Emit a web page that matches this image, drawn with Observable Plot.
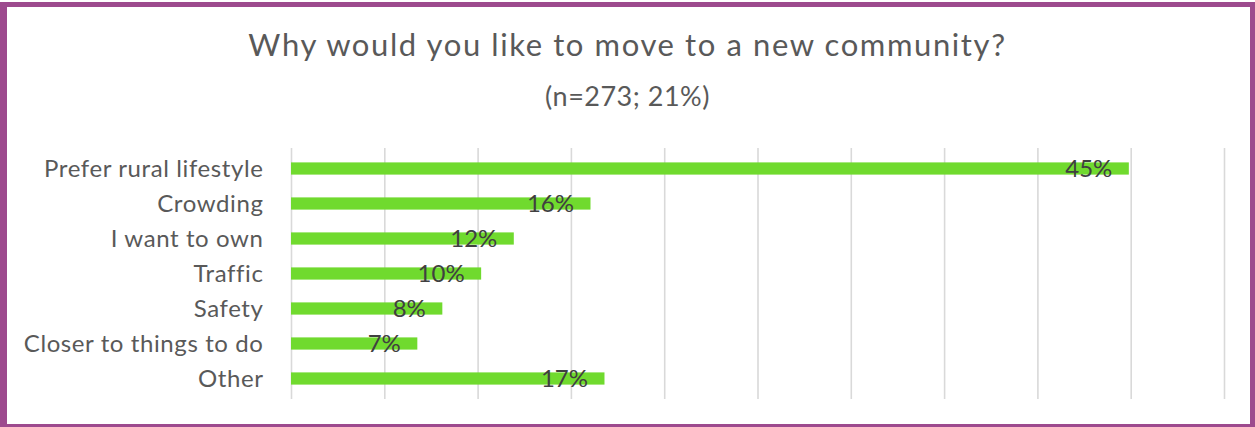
<!DOCTYPE html>
<html>
<head>
<meta charset="utf-8">
<script src="https://cdn.jsdelivr.net/npm/d3@7"></script>
<script src="https://cdn.jsdelivr.net/npm/@observablehq/plot@0.6"></script>
<style>
  html, body { margin: 0; padding: 0; background: #fff; }
  #wrap { position: relative; width: 1255px; height: 427px; overflow: hidden; font-family: Lato, sans-serif; }
  #border { position: absolute; left: 0; top: 2px; width: 1255px; height: 425px; box-sizing: border-box;
            border-style: solid; border-color: #9d4a8e; border-width: 5px 5px 3px 7px; pointer-events: none; }
  #head { position: relative; height: 130px; }
  #title { position: absolute; left: 0; width: 1255px; top: 28.5px; text-align: center; font-size: 31px; letter-spacing: 1.6px; line-height: 1; color: #595959; white-space: nowrap; }
  #subtitle { position: absolute; left: 0; width: 1255px; top: 82px; text-align: center; font-size: 27px; letter-spacing: 0.5px; line-height: 1; color: #595959; white-space: nowrap; }
  #chart svg { display: block; }
  #chart g[aria-label="y-axis tick label"] text { letter-spacing: 0.6px; }
</style>
</head>
<body>
<div id="wrap">
  <div id="head">
    <div id="title">Why would you like to move to a new community?</div>
    <div id="subtitle">(n=273; 21%)</div>
  </div>
  <div id="chart"></div>
  <div id="border"></div>
</div>
<script>
const categories = ["Prefer rural lifestyle", "Crowding", "I want to own", "Traffic", "Safety", "Closer to things to do", "Other"];
const shares = [0.449, 0.1605, 0.1194, 0.1019, 0.0811, 0.0677, 0.168];
const gridTicks = [0, 0.05, 0.1, 0.15, 0.2, 0.25, 0.3, 0.35, 0.4, 0.45, 0.5];

const data = categories.map((c, i) => ({category: c, value: shares[i]}));
const fmt = d3.format(".0%");

const chart = Plot.plot({
  width: 1255,
  height: 297,
  marginTop: 18,
  marginBottom: 28,
  marginLeft: 291,
  marginRight: 31,
  style: {fontFamily: "Lato, sans-serif", background: "transparent"},
  x: {domain: [0, 0.5], axis: null},
  y: {domain: categories, padding: 0, axis: null},
  marks: [
    Plot.ruleX(gridTicks, {stroke: "#d9d9d9", strokeWidth: 1.6}),
    Plot.barX(data, {x: "value", y: "category", fill: "#70da2e", insetTop: 11.4, insetBottom: 11.4}),
    Plot.text(data, {x: "value", y: "category", text: d => fmt(d.value), textAnchor: "end", dx: -17, dy: 0, fontSize: 24, fill: "#404040"}),
    Plot.axisY({tickSize: 0, tickPadding: 28, fontSize: 24, color: "#595959", label: null})
  ]
});
document.getElementById("chart").appendChild(chart);
</script>
</body>
</html>
